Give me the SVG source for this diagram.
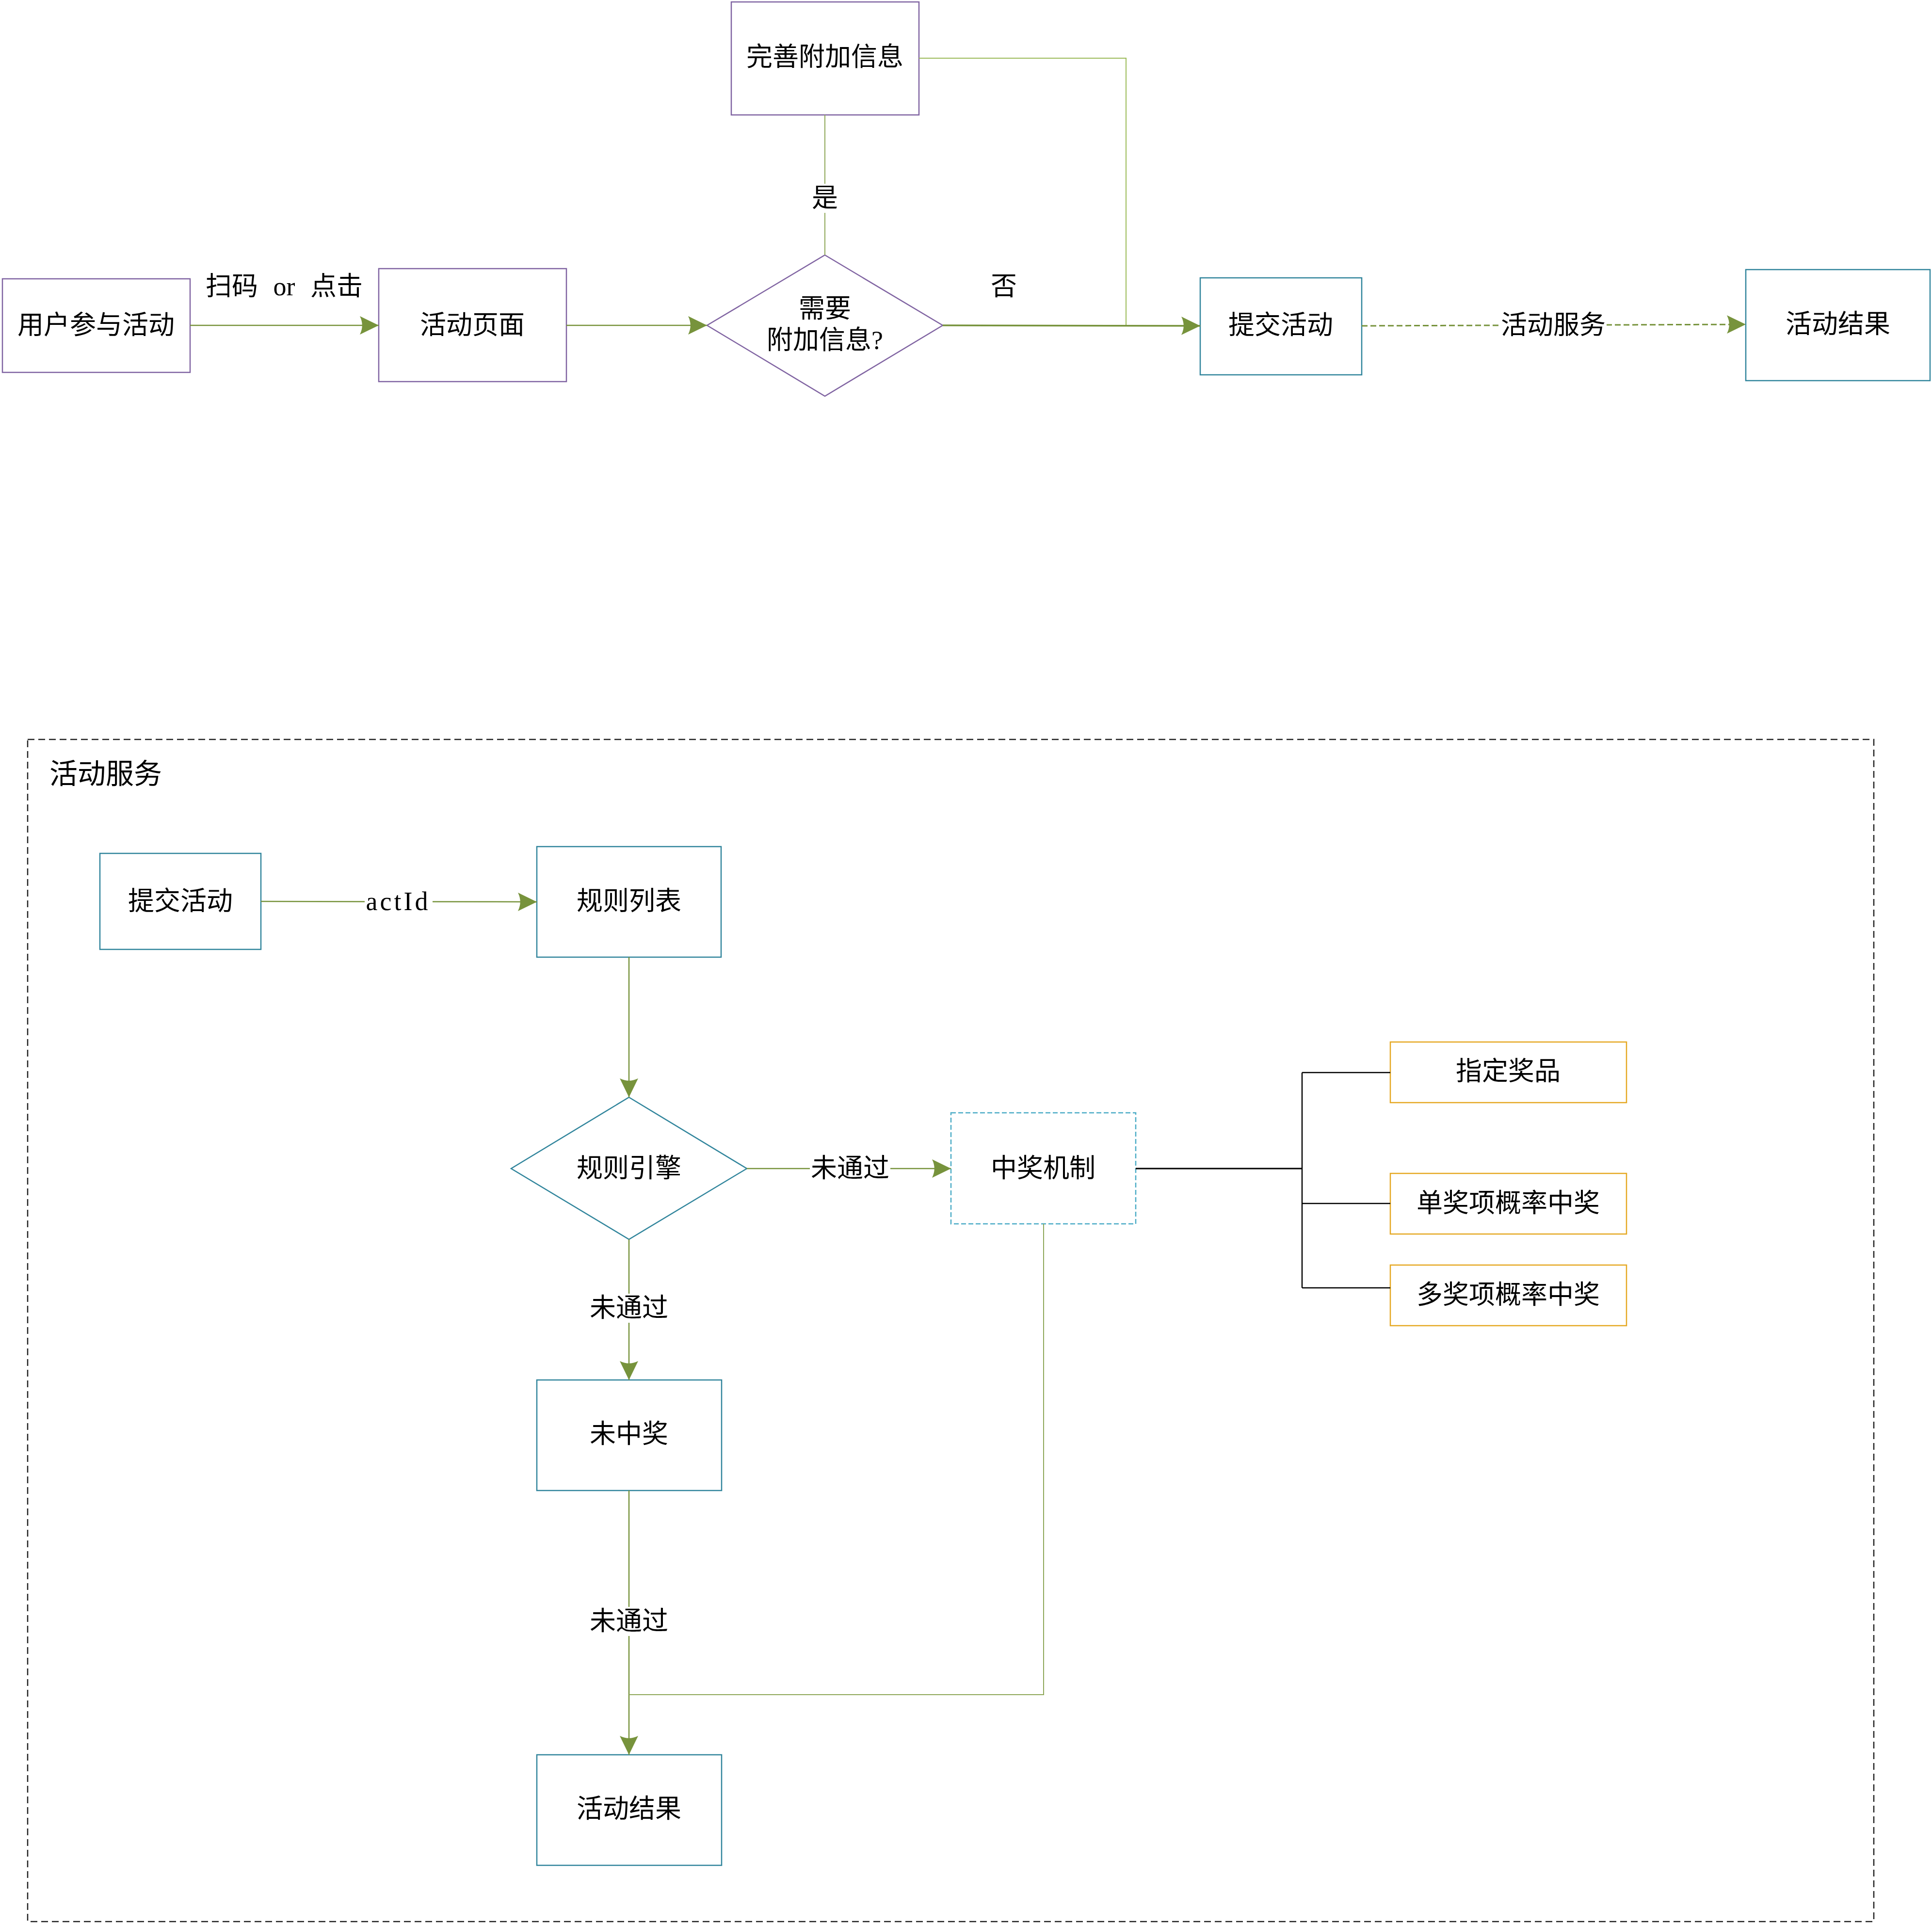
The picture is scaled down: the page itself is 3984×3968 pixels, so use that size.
<svg xmlns="http://www.w3.org/2000/svg" width="3984" height="3968" viewBox="0 0 3984 3968">
  <style>
    text { font-family: "Liberation Serif", "Noto Sans CJK SC", serif; font-size: 54px; fill: #000; text-anchor: middle; dominant-baseline: central; }
    .purple { fill: #fff; stroke: #8064A2; stroke-width: 2.5; }
    .teal { fill: #fff; stroke: #31859C; stroke-width: 2.5; }
    .teal-dash { fill: #fff; stroke: #4BACC6; stroke-width: 2.5; stroke-dasharray: 10 5; }
    .orange { fill: #fff; stroke: #E5A823; stroke-width: 2.5; }
    .flow { fill: none; stroke: #77933C; stroke-width: 2.5; }
    .flow-thick { fill: none; stroke: #77933C; stroke-width: 3.5; }
    .flow-thin { fill: none; stroke: #9BBB59; stroke-width: 2; }
    .flow-dash { fill: none; stroke: #77933C; stroke-width: 3; stroke-dasharray: 12 6; }
    .branch { fill: none; stroke: #000; stroke-width: 2.5; }
    .lbl-bg { fill: #fff; stroke: none; }
    .frame { fill: none; stroke: #222; stroke-width: 2.5; stroke-dasharray: 14 8; }
  </style>
  <defs>
    <marker id="arrow" markerUnits="userSpaceOnUse" markerWidth="40" markerHeight="40" viewBox="0 0 38 38" refX="37" refY="18" orient="auto">
      <path d="M0,0 L37,18 L0,36 Q9,18 0,0 Z" fill="#77933C"/>
    </marker>
  </defs>

  <!-- upper flow: participation -->
  <g id="n-user"><rect class="purple" x="5" y="575" width="387" height="193"/><text x="198" y="671">用户参与活动</text></g>
  <g id="n-page"><rect class="purple" x="781" y="554" width="387" height="233"/><text x="974" y="671">活动页面</text></g>
  <g id="n-extra"><rect class="purple" x="1508" y="4" width="387" height="233"/><text x="1701" y="118">完善附加信息</text></g>
  <g id="n-need"><polygon class="purple" points="1701,526 1944,671 1701,817 1458,671"/><text x="1701" y="637">需要</text><text x="1701" y="702">附加信息?</text></g>
  <g id="n-submit"><rect class="teal" x="2475" y="573" width="333" height="200"/><text x="2641" y="671">提交活动</text></g>
  <g id="n-result"><rect class="teal" x="3600" y="556" width="380" height="229"/><text x="3790" y="669">活动结果</text></g>

  <!-- lower flow: activity service -->
  <g id="g-service">
    <rect class="frame" x="57" y="1525" width="3807" height="2438"/>
    <text x="102" y="1596" style="text-anchor:start;font-size:58px">活动服务</text>
  </g>
  <g id="s-submit"><rect class="teal" x="206" y="1760" width="332" height="198"/><text x="372" y="1859">提交活动</text></g>
  <g id="s-rules"><rect class="teal" x="1107" y="1746" width="380" height="228"/><text x="1297" y="1859">规则列表</text></g>
  <g id="s-engine"><polygon class="teal" points="1297,2263 1540,2410 1297,2556 1054,2410"/><text x="1297" y="2410">规则引擎</text></g>
  <g id="s-mech"><rect class="teal-dash" x="1961" y="2295" width="381" height="229"/><text x="2151" y="2410">中奖机制</text></g>
  <g id="s-prize"><rect class="orange" x="2867" y="2149" width="487" height="125"/><text x="3110" y="2210">指定奖品</text></g>
  <g id="s-single"><rect class="orange" x="2867" y="2420" width="487" height="125"/><text x="3110" y="2482">单奖项概率中奖</text></g>
  <g id="s-multi"><rect class="orange" x="2867" y="2609" width="487" height="125"/><text x="3110" y="2671">多奖项概率中奖</text></g>
  <g id="s-none"><rect class="teal" x="1107" y="2846" width="381" height="228"/><text x="1297" y="2958">未中奖</text></g>
  <g id="s-result"><rect class="teal" x="1107" y="3619" width="381" height="228"/><text x="1297" y="3731">活动结果</text></g>

  <g id="connectors">
    <!-- upper -->
    <path class="flow" d="M392,671 L781,671" marker-end="url(#arrow)"/>
    <text x="586" y="591" style="word-spacing:18px">扫码 or 点击</text>
    <path class="flow" d="M1168,671 L1458,671" marker-end="url(#arrow)"/>
    <path class="flow-thin" d="M1701,526 L1701,237" style="stroke:#8FA85A"/>
    <rect class="lbl-bg" x="1671" y="379" width="60" height="60"/>
    <text x="1701" y="409">是</text>
    <path class="flow-thin" d="M1895,120 L2322,120 L2322,672"/>
    <path class="flow-thick" d="M1944,671 L2475,672" marker-end="url(#arrow)"/>
    <text x="2070" y="591">否</text>
    <path class="flow-dash" d="M2808,672 L3600,669" marker-end="url(#arrow)"/>
    <rect class="lbl-bg" x="3093" y="641" width="220" height="60"/>
    <text x="3203" y="671">活动服务</text>

    <!-- lower -->
    <path class="flow" d="M538,1859 L1107,1860" marker-end="url(#arrow)"/>
    <rect class="lbl-bg" x="752" y="1829" width="140" height="60"/>
    <text x="821" y="1859" style="letter-spacing:5px">actId</text>
    <path class="flow" d="M1297,1974 L1297,2263" marker-end="url(#arrow)"/>
    <path class="flow" d="M1540,2410 L1961,2410" marker-end="url(#arrow)"/>
    <rect class="lbl-bg" x="1670" y="2380" width="166" height="60"/>
    <text x="1753" y="2410">未通过</text>
    <path class="flow" d="M1297,2556 L1297,2846" marker-end="url(#arrow)"/>
    <rect class="lbl-bg" x="1214" y="2668" width="166" height="60"/>
    <text x="1297" y="2698">未通过</text>
    <path class="flow" d="M1297,3074 L1297,3619" marker-end="url(#arrow)"/>
    <rect class="lbl-bg" x="1214" y="3314" width="166" height="60"/>
    <text x="1297" y="3344">未通过</text>
    <path class="flow-thin" d="M2152,2524 L2152,3495 L1297,3495" style="stroke:#8FA85A"/>
    <path class="branch" d="M2342,2410 L2685,2410" style="stroke-width:3"/>
    <path class="branch" d="M2685,2212 L2685,2656 M2685,2212 L2867,2212 M2685,2482 L2867,2482 M2685,2656 L2867,2656"/>
  </g>
</svg>
